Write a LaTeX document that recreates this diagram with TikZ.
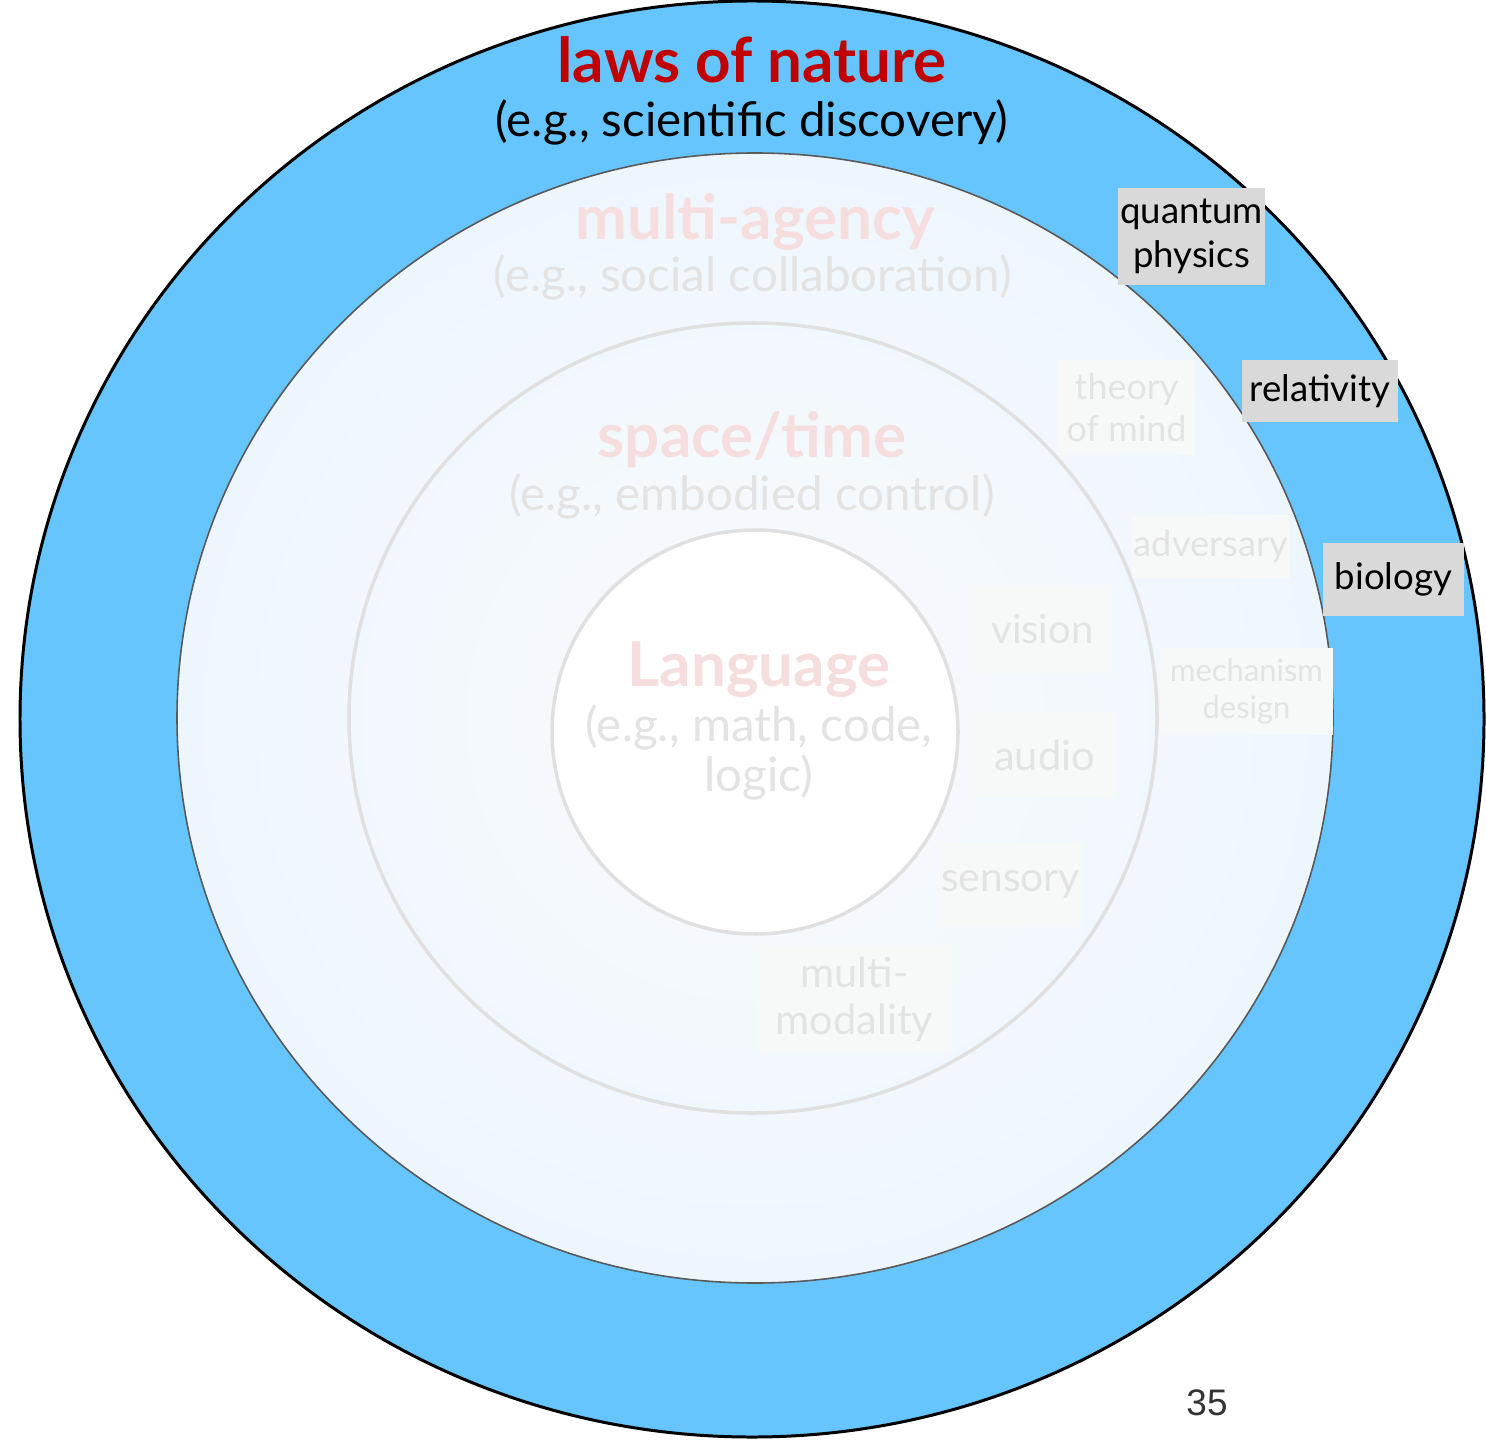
\documentclass[tikz,border=0pt]{standalone}
\usepackage{fontspec}
\setmainfont{Lato}
\newfontfamily\pagefont{Liberation Sans}
\usepackage{xcolor}
\usepackage{tikz}

\definecolor{natureblue}{HTML}{66C5FC}
\definecolor{naturered}{HTML}{C00000}
\definecolor{agencyedge}{HTML}{EEF6FD}
\definecolor{agencymid}{HTML}{F9FBFE}
\definecolor{ringgrey}{HTML}{E0E0E0}
\definecolor{fadered}{HTML}{F7DEDE}
\definecolor{fadegrey}{HTML}{E3E3E3}
\definecolor{tagfill}{HTML}{D9D9D9}
\definecolor{ghostfill}{HTML}{F7F8F8}

\begin{document}
\begin{tikzpicture}[x=0.01cm,y=-0.01cm,
    title/.style={anchor=base,font=\fontsize{17.6}{21}\selectfont\bfseries},
    subtitle/.style={anchor=base,font=\fontsize{13.5}{14.2}\selectfont},
    tagbox/.style={fill=tagfill,inner sep=0pt,align=center,
      font=\fontsize{10.4}{12.4}\selectfont},
    ghostbox/.style={fill=ghostfill,text=fadegrey,inner sep=0pt,align=center,
      font=\fontsize{11.6}{13.6}\selectfont}]
	\useasboundingbox (0,0) rectangle (1486,1440);
	\fill[white] (0,0) rectangle (1486,1440);

	% rings
	\filldraw[fill=natureblue,draw=black,line width=0.85pt] (752,719) ellipse [x radius=732,y radius=718];
	\shade[inner color=agencymid,outer color=agencyedge] (755,718) ellipse [x radius=578,y radius=565];
	\draw[black!65,line width=0.45pt] (755,718) ellipse [x radius=578,y radius=565];
	\draw[ringgrey,line width=1pt] (753,718) ellipse [x radius=404,y radius=395];
	\filldraw[fill=white,draw=ringgrey,line width=1pt] (755,732) ellipse [x radius=203,y radius=202];

	% titles
	\node[title,text=naturered] (nature) at (752,83) {laws of nature};
	\node[subtitle] (natureeg) at (752,137) {(e.g., scientific discovery)};
	\node[title,text=fadered] (agency) at (755,240) {multi-agency};
	\node[subtitle,text=fadegrey] (agencyeg) at (753,292) {(e.g., social collaboration)};
	\node[title,text=fadered] (spacetime) at (752,458) {space/time};
	\node[subtitle,text=fadegrey] (spacetimeeg) at (752,510) {(e.g., embodied control)};
	\node[title,text=fadered] (language) at (759,686) {Language};
	\node[subtitle,text=fadegrey,align=center,anchor=center] (languageeg) at (759,752) {(e.g., math, code,\\logic)};

	% outer tags
	\node[tagbox,minimum width=1.47cm,minimum height=0.97cm] (quantum) at (1191.5,236.5) {quantum\\physics};
	\node[tagbox,minimum width=1.56cm,minimum height=0.62cm] (relativity) at (1320,391) {relativity};
	\node[tagbox,minimum width=1.41cm,minimum height=0.73cm] (biology) at (1393.5,579.5) {biology};

	% faded tags
	\node[ghostbox,minimum width=1.37cm,minimum height=0.95cm,font=\fontsize{10.2}{12}\selectfont] (mind) at (1126.5,407.5) {theory\\of mind};
	\node[ghostbox,minimum width=1.58cm,minimum height=0.63cm,font=\fontsize{10.3}{12}\selectfont] (adversary) at (1211,546.5) {adversary};
	\node[ghostbox,minimum width=1.73cm,minimum height=0.87cm,font=\fontsize{8.8}{10.6}\selectfont] (mechanism) at (1246.5,691.5) {mechanism\\design};
	\node[ghostbox,minimum width=1.39cm,minimum height=0.88cm,font=\fontsize{11.4}{13.6}\selectfont] (vision) at (1042.5,629) {vision};
	\node[ghostbox,minimum width=1.43cm,minimum height=0.86cm,font=\fontsize{11.8}{13.6}\selectfont] (audio) at (1044.5,755) {audio};
	\node[ghostbox,minimum width=1.45cm,minimum height=0.85cm] (sensory) at (1010.5,884.5) {sensory};
	\node[ghostbox,minimum width=1.95cm,minimum height=1.08cm,font=\fontsize{11.8}{13.4}\selectfont] (modality) at (854.5,999) {multi-\\modality};

	% page number
	\node[text=black!80,font=\pagefont\fontsize{10.5}{12}\selectfont] (pagenum) at (1207,1403) {35};
\end{tikzpicture}
\end{document}
